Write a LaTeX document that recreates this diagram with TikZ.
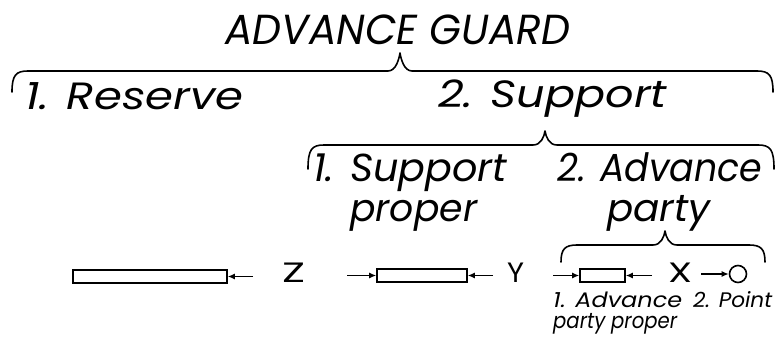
\documentclass[tikz,border=0pt]{standalone}
\usepackage{fontspec}
\setmainfont{Liberation Sans}
\usepackage{graphicx}
\usetikzlibrary{arrows.meta}
\IfFontExistsTF{Poppins Italic}
  {\newfontfamily\handfont{Poppins Italic}}
  {\IfFontExistsTF{Poppins Light Italic}
    {\newfontfamily\handfont{Poppins Light Italic}}
    {\newcommand\handfont{\itshape}}}
\IfFontExistsTF{Poppins}
  {\newfontfamily\handup{Poppins}}
  {\newcommand\handup{\upshape}}
\newcommand\fitw[2]{\resizebox{#1pt}{\height}{#2}}
\newcommand\bracepath[6]{% x1 x2 xm yline ytip yend
  \draw[bracestyle] (#1,#6) .. controls (#1,#4+4) and (#1+4,#4) .. (#1+16,#4)
    -- (#3-12,#4) .. controls (#3-4,#4) and (#3-1,#5+6) .. (#3,#5)
    .. controls (#3+1,#5+6) and (#3+4,#4) .. (#3+12,#4)
    -- (#2-16,#4) .. controls (#2-4,#4) and (#2,#4+4) .. (#2,#6);}
\tikzset{
  bracestyle/.style={line width=1.6pt, line cap=round, line join=round},
  lbl/.style={inner sep=0pt, anchor=base west, font=\handfont},
  letter/.style={inner sep=0pt, anchor=base west, font=\handup},
  bar/.style={draw, line width=1.6pt, inner sep=0pt, minimum height=13pt},
  pt/.style={draw, circle, line width=1.6pt, inner sep=0pt, minimum size=17pt},
  arr/.style={line width=1.3pt, -{Latex[length=7pt,width=6pt]}}
}
\begin{document}
\begin{tikzpicture}[x=1pt,y=-1pt]
\useasboundingbox (0,0) rectangle (776,342);
% titles
\node[lbl] (ag) at (225,45) {\fontsize{42}{42}\selectfont\fitw{345}{ADVANCE GUARD}};
\bracepath{12}{773}{400}{71}{53}{92}
\node[lbl] (res) at (25,110) {\fontsize{38}{38}\selectfont\fitw{218}{1. Reserve}};
\node[lbl] (sup) at (438,108) {\fontsize{38}{38}\selectfont\fitw{229}{2. Support}};
\bracepath{308}{774}{545}{145}{131}{169}
\node[lbl] (sp1) at (313,182) {\fontsize{39}{39}\selectfont\fitw{194}{1. Support}};
\node[lbl] (sp2) at (350,221) {\fontsize{38}{38}\selectfont\fitw{127}{proper}};
\node[lbl] (ap1) at (557,182) {\fontsize{39}{39}\selectfont\fitw{205}{2. Advance}};
\node[lbl] (ap2) at (607,221) {\fontsize{38}{38}\selectfont\fitw{103}{party}};
\bracepath{561}{765}{665}{245}{231}{262}
% column
\node[bar, minimum width=154pt] (r1) at (150,276.5) {};
\node[bar, minimum width=90pt] (r2) at (422,275.5) {};
\node[bar, minimum width=45pt] (r3) at (602.5,275.5) {};
\node[pt] (c) at (738,274) {};
\node[letter] (z) at (282,282) {\fontsize{28}{28}\selectfont\fitw{23}{Z}};
\node[letter] (y) at (507,282) {\fontsize{28}{28}\selectfont\fitw{17}{Y}};
\node[letter] (xx) at (668,282) {\fontsize{28}{28}\selectfont\fitw{24}{X}};
\coordinate (a1) at (253,276.5);
\coordinate (a2) at (347,275.5);
\coordinate (a3) at (493,275.5);
\coordinate (a4) at (553,275.5);
\coordinate (a5) at (652,275.5);
\coordinate (a6) at (701,274);
\draw[arr] (a1) -- (r1.east);
\draw[arr] (a2) -- (r2.west);
\draw[arr] (a3) -- (r2.east);
\draw[arr] (a4) -- (r3.west);
\draw[arr] (a5) -- (r3.east);
\draw[arr] (a6) -- (c.west);
% small labels
\node[lbl] (l1) at (553,307) {\fontsize{21}{21}\selectfont\fitw{129}{1. Advance}};
\node[lbl] (l2) at (553,328) {\fontsize{22}{22}\selectfont\fitw{124}{party proper}};
\node[lbl] (l3) at (693,307) {\fontsize{21}{21}\selectfont\fitw{79}{2. Point}};
\end{tikzpicture}
\end{document}
